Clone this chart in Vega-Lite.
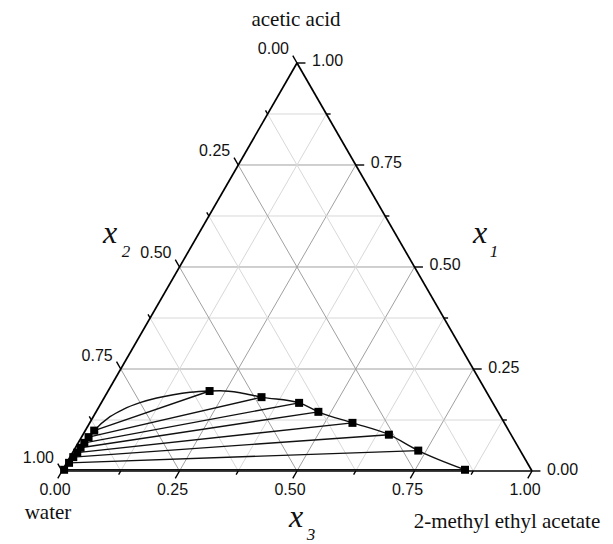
{
  "$schema": "https://vega.github.io/schema/vega-lite/v6.json",
  "width": 613,
  "height": 544,
  "padding": 0,
  "autosize": {"type": "fit", "contains": "padding"},
  "background": "white",
  "config": {"view": {"stroke": null}},
  "datasets": {
    "grid": [
      {"h": 0.0625, "y": 0.125, "h2": 0.9375, "y2": 0.125, "major": false},
      {"h": 0.125, "y": 0.25, "h2": 0.875, "y2": 0.25, "major": true},
      {"h": 0.1875, "y": 0.375, "h2": 0.8125, "y2": 0.375, "major": false},
      {"h": 0.25, "y": 0.5, "h2": 0.75, "y2": 0.5, "major": true},
      {"h": 0.3125, "y": 0.625, "h2": 0.6875, "y2": 0.625, "major": false},
      {"h": 0.375, "y": 0.75, "h2": 0.625, "y2": 0.75, "major": true},
      {"h": 0.4375, "y": 0.875, "h2": 0.5625, "y2": 0.875, "major": false},
      {"h": 0.125, "y": 0, "h2": 0.5625, "y2": 0.875, "major": false},
      {"h": 0.25, "y": 0, "h2": 0.625, "y2": 0.75, "major": true},
      {"h": 0.375, "y": 0, "h2": 0.6875, "y2": 0.625, "major": false},
      {"h": 0.5, "y": 0, "h2": 0.75, "y2": 0.5, "major": true},
      {"h": 0.625, "y": 0, "h2": 0.8125, "y2": 0.375, "major": false},
      {"h": 0.75, "y": 0, "h2": 0.875, "y2": 0.25, "major": true},
      {"h": 0.875, "y": 0, "h2": 0.9375, "y2": 0.125, "major": false},
      {"h": 0.875, "y": 0, "h2": 0.4375, "y2": 0.875, "major": false},
      {"h": 0.75, "y": 0, "h2": 0.375, "y2": 0.75, "major": true},
      {"h": 0.625, "y": 0, "h2": 0.3125, "y2": 0.625, "major": false},
      {"h": 0.5, "y": 0, "h2": 0.25, "y2": 0.5, "major": true},
      {"h": 0.375, "y": 0, "h2": 0.1875, "y2": 0.375, "major": false},
      {"h": 0.25, "y": 0, "h2": 0.125, "y2": 0.25, "major": true},
      {"h": 0.125, "y": 0, "h2": 0.0625, "y2": 0.125, "major": false}
    ],
    "border": [
      {"h": 0, "y": 0, "h2": 1, "y2": 0},
      {"h": 0, "y": 0, "h2": 0.5, "y2": 1},
      {"h": 1, "y": 0, "h2": 0.5, "y2": 1}
    ],
    "ticks": [
      {"h": 0, "y": 0, "h2": -0.009, "y2": -0.018},
      {"h": 0.125, "y": 0, "h2": 0.1205, "y2": -0.009},
      {"h": 0.25, "y": 0, "h2": 0.241, "y2": -0.018},
      {"h": 0.375, "y": 0, "h2": 0.3705, "y2": -0.009},
      {"h": 0.5, "y": 0, "h2": 0.491, "y2": -0.018},
      {"h": 0.625, "y": 0, "h2": 0.6205, "y2": -0.009},
      {"h": 0.75, "y": 0, "h2": 0.741, "y2": -0.018},
      {"h": 0.875, "y": 0, "h2": 0.8705, "y2": -0.009},
      {"h": 1, "y": 0, "h2": 0.991, "y2": -0.018},
      {"h": 0.5, "y": 1, "h2": 0.491, "y2": 1.018},
      {"h": 0.4375, "y": 0.875, "h2": 0.433, "y2": 0.884},
      {"h": 0.375, "y": 0.75, "h2": 0.366, "y2": 0.768},
      {"h": 0.3125, "y": 0.625, "h2": 0.308, "y2": 0.634},
      {"h": 0.25, "y": 0.5, "h2": 0.241, "y2": 0.518},
      {"h": 0.1875, "y": 0.375, "h2": 0.183, "y2": 0.384},
      {"h": 0.125, "y": 0.25, "h2": 0.116, "y2": 0.268},
      {"h": 0.0625, "y": 0.125, "h2": 0.058, "y2": 0.134},
      {"h": 0, "y": 0, "h2": -0.009, "y2": 0.018},
      {"h": 1, "y": 0, "h2": 1.018, "y2": 0},
      {"h": 0.9375, "y": 0.125, "h2": 0.9465, "y2": 0.125},
      {"h": 0.875, "y": 0.25, "h2": 0.893, "y2": 0.25},
      {"h": 0.8125, "y": 0.375, "h2": 0.8215, "y2": 0.375},
      {"h": 0.75, "y": 0.5, "h2": 0.768, "y2": 0.5},
      {"h": 0.6875, "y": 0.625, "h2": 0.6965, "y2": 0.625},
      {"h": 0.625, "y": 0.75, "h2": 0.643, "y2": 0.75},
      {"h": 0.5625, "y": 0.875, "h2": 0.5715, "y2": 0.875},
      {"h": 0.5, "y": 1, "h2": 0.518, "y2": 1}
    ],
    "labBottom": [
      {"h": 0, "y": 0, "t": "0.00"},
      {"h": 0.25, "y": 0, "t": "0.25"},
      {"h": 0.5, "y": 0, "t": "0.50"},
      {"h": 0.75, "y": 0, "t": "0.75"},
      {"h": 1, "y": 0, "t": "1.00"}
    ],
    "labLeft": [
      {"h": 0.5, "y": 1, "t": "0.00"},
      {"h": 0.375, "y": 0.75, "t": "0.25"},
      {"h": 0.25, "y": 0.5, "t": "0.50"},
      {"h": 0.125, "y": 0.25, "t": "0.75"},
      {"h": 0, "y": 0, "t": "1.00"}
    ],
    "labRight": [
      {"h": 1, "y": 0, "t": "0.00"},
      {"h": 0.875, "y": 0.25, "t": "0.25"},
      {"h": 0.75, "y": 0.5, "t": "0.50"},
      {"h": 0.625, "y": 0.75, "t": "0.75"},
      {"h": 0.5, "y": 1, "t": "1.00"}
    ],
    "tielines": [
      {"aq_x1": 0.099, "aq_x3": 0.019, "aq_h": 0.0685, "org_x1": 0.196, "org_x3": 0.216, "org_h": 0.314},
      {"aq_x1": 0.083, "aq_x3": 0.015, "aq_h": 0.0565, "org_x1": 0.181, "org_x3": 0.334, "org_h": 0.4245},
      {"aq_x1": 0.069, "aq_x3": 0.013, "aq_h": 0.0475, "org_x1": 0.167, "org_x3": 0.421, "org_h": 0.5045},
      {"aq_x1": 0.057, "aq_x3": 0.011, "aq_h": 0.0395, "org_x1": 0.145, "org_x3": 0.473, "org_h": 0.5455},
      {"aq_x1": 0.045, "aq_x3": 0.010, "aq_h": 0.0325, "org_x1": 0.118, "org_x3": 0.559, "org_h": 0.618},
      {"aq_x1": 0.034, "aq_x3": 0.007, "aq_h": 0.024, "org_x1": 0.089, "org_x3": 0.651, "org_h": 0.6955},
      {"aq_x1": 0.020, "aq_x3": 0.005, "aq_h": 0.015, "org_x1": 0.050, "org_x3": 0.733, "org_h": 0.758},
      {"aq_x1": 0.003, "aq_x3": 0.003, "aq_h": 0.0045, "org_x1": 0.003, "org_x3": 0.856, "org_h": 0.8575}
    ],
    "binodal": [
      {"o": 1, "h": 0.0045, "x1": 0.003},
      {"o": 2, "h": 0.015, "x1": 0.020},
      {"o": 3, "h": 0.024, "x1": 0.034},
      {"o": 4, "h": 0.0325, "x1": 0.045},
      {"o": 5, "h": 0.0395, "x1": 0.057},
      {"o": 6, "h": 0.0475, "x1": 0.069},
      {"o": 7, "h": 0.0565, "x1": 0.083},
      {"o": 8, "h": 0.0685, "x1": 0.099},
      {"o": 9, "h": 0.1021, "x1": 0.1331},
      {"o": 10, "h": 0.1304, "x1": 0.1512},
      {"o": 11, "h": 0.166, "x1": 0.1674},
      {"o": 12, "h": 0.2015, "x1": 0.1789},
      {"o": 13, "h": 0.2368, "x1": 0.187},
      {"o": 14, "h": 0.2723, "x1": 0.1929},
      {"o": 15, "h": 0.314, "x1": 0.196},
      {"o": 16, "h": 0.3362, "x1": 0.1966},
      {"o": 17, "h": 0.3787, "x1": 0.1919},
      {"o": 18, "h": 0.4245, "x1": 0.181},
      {"o": 19, "h": 0.5045, "x1": 0.167},
      {"o": 20, "h": 0.5455, "x1": 0.145},
      {"o": 21, "h": 0.618, "x1": 0.118},
      {"o": 22, "h": 0.6955, "x1": 0.089},
      {"o": 23, "h": 0.758, "x1": 0.050},
      {"o": 24, "h": 0.8575, "x1": 0.003}
    ],
    "titles": [
      {"h": 0.4979, "y": 1.0907, "t": "acetic acid"},
      {"h": -0.0298, "y": -0.1176, "t": "water"},
      {"h": 0.9468, "y": -0.1397, "t": "2-methyl ethyl acetate"}
    ],
    "xletters": [
      {"h": 0.8894, "y": 0.5588, "t": "x"},
      {"h": 0.1021, "y": 0.5588, "t": "x"},
      {"h": 0.4979, "y": -0.1373, "t": "x"}
    ],
    "xsubs": [
      {"h": 0.9191, "y": 0.5252, "t": "1"},
      {"h": 0.1362, "y": 0.5245, "t": "2"},
      {"h": 0.5298, "y": -0.1691, "t": "3"}
    ]
  },
  "layer": [
    {
      "data": {"name": "grid"},
      "mark": {"type": "rule", "strokeWidth": 1},
      "encoding": {
        "x": {"field": "h", "type": "quantitative", "scale": {"domain": [-0.13191, 1.17234], "nice": false, "zero": false}, "axis": null},
        "y": {"field": "y", "type": "quantitative", "scale": {"domain": [-0.17892, 1.15441], "nice": false, "zero": false}, "axis": null},
        "x2": {"field": "h2"},
        "y2": {"field": "y2"},
        "stroke": {"condition": {"test": "datum.major", "value": "#a0a0a0"}, "value": "#d8d8d8"}
      }
    },
    {
      "data": {"name": "border"},
      "mark": {"type": "rule", "strokeWidth": 1.7, "color": "black"},
      "encoding": {
        "x": {"field": "h", "type": "quantitative", "scale": {"domain": [-0.13191, 1.17234], "nice": false, "zero": false}, "axis": null},
        "y": {"field": "y", "type": "quantitative", "scale": {"domain": [-0.17892, 1.15441], "nice": false, "zero": false}, "axis": null},
        "x2": {"field": "h2"},
        "y2": {"field": "y2"}
      }
    },
    {
      "data": {"name": "ticks"},
      "mark": {"type": "rule", "strokeWidth": 1.4, "color": "black"},
      "encoding": {
        "x": {"field": "h", "type": "quantitative", "scale": {"domain": [-0.13191, 1.17234], "nice": false, "zero": false}, "axis": null},
        "y": {"field": "y", "type": "quantitative", "scale": {"domain": [-0.17892, 1.15441], "nice": false, "zero": false}, "axis": null},
        "x2": {"field": "h2"},
        "y2": {"field": "y2"}
      }
    },
    {
      "data": {"name": "labBottom"},
      "mark": {"type": "text", "font": "Liberation Sans", "fontSize": 16, "color": "#111", "align": "center", "baseline": "middle", "dx": -7, "dy": 19},
      "encoding": {
        "x": {"field": "h", "type": "quantitative", "scale": {"domain": [-0.13191, 1.17234], "nice": false, "zero": false}, "axis": null},
        "y": {"field": "y", "type": "quantitative", "scale": {"domain": [-0.17892, 1.15441], "nice": false, "zero": false}, "axis": null},
        "text": {"field": "t"}
      }
    },
    {
      "data": {"name": "labLeft"},
      "mark": {"type": "text", "font": "Liberation Sans", "fontSize": 16, "color": "#111", "align": "right", "baseline": "middle", "dx": -8, "dy": -13.5},
      "encoding": {
        "x": {"field": "h", "type": "quantitative", "scale": {"domain": [-0.13191, 1.17234], "nice": false, "zero": false}, "axis": null},
        "y": {"field": "y", "type": "quantitative", "scale": {"domain": [-0.17892, 1.15441], "nice": false, "zero": false}, "axis": null},
        "text": {"field": "t"}
      }
    },
    {
      "data": {"name": "labRight"},
      "mark": {"type": "text", "font": "Liberation Sans", "fontSize": 16, "color": "#111", "align": "left", "baseline": "middle", "dx": 15, "dy": -1.5},
      "encoding": {
        "x": {"field": "h", "type": "quantitative", "scale": {"domain": [-0.13191, 1.17234], "nice": false, "zero": false}, "axis": null},
        "y": {"field": "y", "type": "quantitative", "scale": {"domain": [-0.17892, 1.15441], "nice": false, "zero": false}, "axis": null},
        "text": {"field": "t"}
      }
    },
    {
      "data": {"name": "tielines"},
      "mark": {"type": "rule", "strokeWidth": 1.4, "color": "#111"},
      "encoding": {
        "x": {"field": "aq_h", "type": "quantitative", "scale": {"domain": [-0.13191, 1.17234], "nice": false, "zero": false}, "axis": null},
        "y": {"field": "aq_x1", "type": "quantitative", "scale": {"domain": [-0.17892, 1.15441], "nice": false, "zero": false}, "axis": null},
        "x2": {"field": "org_h"},
        "y2": {"field": "org_x1"}
      }
    },
    {
      "data": {"name": "binodal"},
      "mark": {"type": "line", "strokeWidth": 1.4, "color": "#111", "interpolate": "monotone"},
      "encoding": {
        "x": {"field": "h", "type": "quantitative", "scale": {"domain": [-0.13191, 1.17234], "nice": false, "zero": false}, "axis": null},
        "y": {"field": "x1", "type": "quantitative", "scale": {"domain": [-0.17892, 1.15441], "nice": false, "zero": false}, "axis": null},
        "order": {"field": "o", "type": "quantitative"}
      }
    },
    {
      "data": {"name": "tielines"},
      "mark": {"type": "point", "shape": "square", "filled": true, "size": 64, "color": "black", "opacity": 1},
      "encoding": {
        "x": {"field": "aq_h", "type": "quantitative", "scale": {"domain": [-0.13191, 1.17234], "nice": false, "zero": false}, "axis": null},
        "y": {"field": "aq_x1", "type": "quantitative", "scale": {"domain": [-0.17892, 1.15441], "nice": false, "zero": false}, "axis": null}
      }
    },
    {
      "data": {"name": "tielines"},
      "mark": {"type": "point", "shape": "square", "filled": true, "size": 64, "color": "black", "opacity": 1},
      "encoding": {
        "x": {"field": "org_h", "type": "quantitative", "scale": {"domain": [-0.13191, 1.17234], "nice": false, "zero": false}, "axis": null},
        "y": {"field": "org_x1", "type": "quantitative", "scale": {"domain": [-0.17892, 1.15441], "nice": false, "zero": false}, "axis": null}
      }
    },
    {
      "data": {"name": "titles"},
      "mark": {"type": "text", "font": "Liberation Serif", "fontSize": 21, "color": "#111", "align": "center", "baseline": "alphabetic"},
      "encoding": {
        "x": {"field": "h", "type": "quantitative", "scale": {"domain": [-0.13191, 1.17234], "nice": false, "zero": false}, "axis": null},
        "y": {"field": "y", "type": "quantitative", "scale": {"domain": [-0.17892, 1.15441], "nice": false, "zero": false}, "axis": null},
        "text": {"field": "t"}
      }
    },
    {
      "data": {"name": "xletters"},
      "mark": {"type": "text", "font": "Liberation Serif", "fontSize": 32, "fontStyle": "italic", "color": "#111", "align": "center", "baseline": "alphabetic"},
      "encoding": {
        "x": {"field": "h", "type": "quantitative", "scale": {"domain": [-0.13191, 1.17234], "nice": false, "zero": false}, "axis": null},
        "y": {"field": "y", "type": "quantitative", "scale": {"domain": [-0.17892, 1.15441], "nice": false, "zero": false}, "axis": null},
        "text": {"field": "t"}
      }
    },
    {
      "data": {"name": "xsubs"},
      "mark": {"type": "text", "font": "Liberation Serif", "fontSize": 17, "fontStyle": "italic", "color": "#111", "align": "center", "baseline": "alphabetic"},
      "encoding": {
        "x": {"field": "h", "type": "quantitative", "scale": {"domain": [-0.13191, 1.17234], "nice": false, "zero": false}, "axis": null},
        "y": {"field": "y", "type": "quantitative", "scale": {"domain": [-0.17892, 1.15441], "nice": false, "zero": false}, "axis": null},
        "text": {"field": "t"}
      }
    }
  ]
}
